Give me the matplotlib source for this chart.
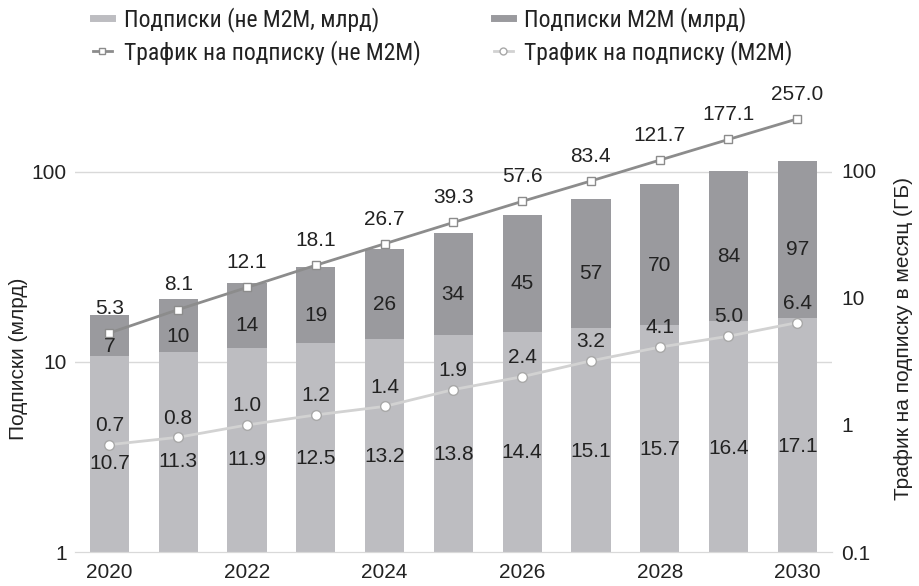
import matplotlib.pyplot as plt
from matplotlib.lines import Line2D

# data
years = [2020, 2021, 2022, 2023, 2024, 2025, 2026, 2027, 2028, 2029, 2030]
subs_non_m2m = [10.7, 11.3, 11.9, 12.5, 13.2, 13.8, 14.4, 15.1, 15.7, 16.4, 17.1]
subs_m2m = [7, 10, 14, 19, 26, 34, 45, 57, 70, 84, 97]
traffic_non_m2m = [5.3, 8.1, 12.1, 18.1, 26.7, 39.3, 57.6, 83.4, 121.7, 177.1, 257.0]
traffic_m2m = [0.7, 0.8, 1.0, 1.2, 1.4, 1.9, 2.4, 3.2, 4.1, 5.0, 6.4]

# colours
c_light = "#bdbdc1"
c_dark = "#9a9a9e"
c_line_dark = "#8c8c8c"
c_line_light = "#d2d2d2"
c_grid = "#d9d9d9"
c_text = "#222222"

plt.rcParams['font.family'] = ['Liberation Sans', 'DejaVu Sans']

fig = plt.figure(figsize=(9.2, 5.86), dpi=100)
ax = fig.add_axes([0.0815, 0.058, 0.8225, 0.867])
ax2 = ax.twinx()

x = list(range(len(years)))
tops = [a + b for a, b in zip(subs_non_m2m, subs_m2m)]

ax.bar(x, subs_non_m2m, width=0.57, bottom=1, color=c_light, zorder=2)
ax.bar(x, subs_m2m, width=0.57, bottom=subs_non_m2m, color=c_dark, zorder=2)
ax.set_yscale('log')
ax.set_ylim(1, 470)
ax.set_xlim(-0.5, len(years) - 0.5)
ax.set_yticks([1, 10, 100])
ax.set_yticklabels(['1', '10', '100'])
ax.minorticks_off()
for v in [10, 100]:
    ax.axhline(v, color=c_grid, lw=1, zorder=1)
ax.set_xticks(x[::2])
ax.set_xticklabels([str(y) for y in years[::2]])

for i in x:
    ax.text(i, subs_non_m2m[i] ** 0.45, f"{subs_non_m2m[i]:.1f}", ha='center', va='center',
            fontsize=15, color=c_text, zorder=5)
    mid = (subs_non_m2m[i] * tops[i]) ** 0.5 * 0.88
    ax.text(i, mid, f"{subs_m2m[i]}", ha='center', va='center',
            fontsize=15, color=c_text, zorder=5)

ax2.plot(x, traffic_non_m2m, color=c_line_dark, lw=2, marker='s', ms=6,
         mfc='white', mec=c_line_dark, mew=1, zorder=4)
ax2.plot(x, traffic_m2m, color=c_line_light, lw=2, marker='o', ms=7,
         mfc='white', mec='#a8a8a8', mew=1, zorder=4)
ax2.set_yscale('log')
ax2.set_ylim(0.1, 1000)
ax2.set_yticks([0.1, 1, 10, 100])
ax2.set_yticklabels(['0.1', '1', '10', '100'])
ax2.minorticks_off()

for i in x:
    ax2.annotate(f"{traffic_non_m2m[i]:.1f}", (i, traffic_non_m2m[i]), xytext=(0, 11),
                 textcoords='offset points', ha='center', va='bottom', fontsize=15, color=c_text)
    ax2.annotate(f"{traffic_m2m[i]:.1f}", (i, traffic_m2m[i]), xytext=(0, 7),
                 textcoords='offset points', ha='center', va='bottom', fontsize=15, color=c_text)

for a in (ax, ax2):
    for s in ['top', 'left', 'right']:
        a.spines[s].set_visible(False)
    a.spines['bottom'].set_color(c_grid)
    a.tick_params(length=0, labelsize=15, colors=c_text)
ax.tick_params(axis='x', pad=8)
ax.tick_params(axis='y', pad=6)
ax2.tick_params(axis='y', pad=7)

ax.set_ylabel("Подписки (млрд)", fontsize=15, color=c_text)
ax.yaxis.set_label_coords(-0.062, 0.38)
ax2.set_ylabel("Трафик на подписку в месяц (ГБ)", fontsize=15, color=c_text)
ax2.yaxis.set_label_coords(1.083, 0.42)

handles = [
    Line2D([], [], color=c_light, lw=5),
    Line2D([], [], color=c_line_dark, lw=2, marker='s', ms=5, mfc='white', mec=c_line_dark),
    Line2D([], [], color=c_dark, lw=5),
    Line2D([], [], color=c_line_light, lw=2, marker='o', ms=5, mfc='white', mec='#a8a8a8'),
]
labels = ["Подписки (не M2M, млрд)", "Трафик на подписку (не M2M)",
          "Подписки M2M (млрд)", "Трафик на подписку (M2M)"]
fig.legend(handles, labels, loc='upper left', bbox_to_anchor=(0.078, 1.025), ncol=2,
           frameon=False, handlelength=0.8, handletextpad=0.5, columnspacing=3.1,
           labelspacing=0.35, prop={'family': ['Roboto Condensed', 'Roboto'], 'size': 17},
           labelcolor=c_text)

fig.savefig("out.png", dpi=100)
